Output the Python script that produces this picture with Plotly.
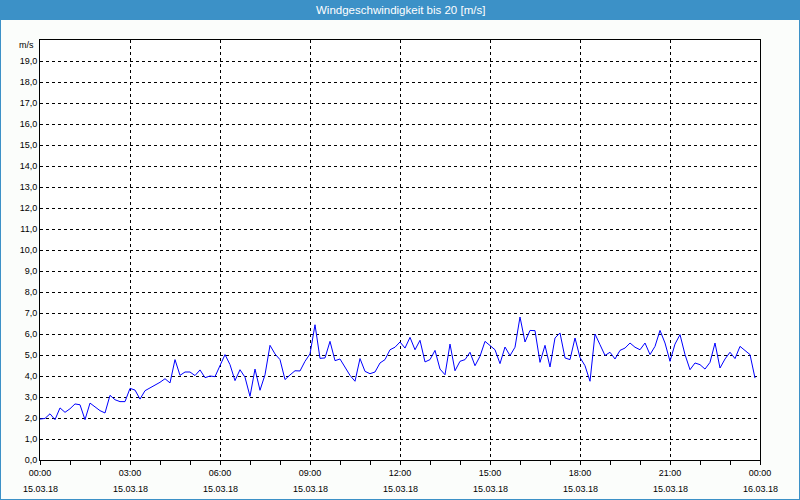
import plotly.graph_objects as go
import pandas as pd

# ---- data (10-minute wind speed values, m/s), 15.03.18 00:00 .. 23:50 ----
speed_00_06 = [1.95, 1.98, 2.20, 1.92, 2.48, 2.27, 2.44, 2.67, 2.63, 1.92, 2.71, 2.52,
               2.35, 2.24, 3.08, 2.87, 2.78, 2.78, 3.41, 3.33, 2.90, 3.30, 3.43, 3.56,
               3.70, 3.87, 3.67, 4.78, 4.03, 4.19, 4.19, 4.02, 4.29, 3.92, 4.00, 3.97]
speed_06_12 = [4.54, 5.02, 4.54, 3.78, 4.30, 3.94, 3.03, 4.33, 3.32, 4.06, 5.46, 5.05,
               4.78, 3.83, 4.05, 4.25, 4.24, 4.70, 5.05, 6.44, 4.84, 4.86, 5.65, 4.73,
               4.81, 4.43, 4.03, 3.75, 4.83, 4.22, 4.11, 4.19, 4.62, 4.78, 5.25, 5.37]
speed_12_18 = [5.62, 5.33, 5.84, 5.25, 5.70, 4.67, 4.78, 5.22, 4.33, 4.06, 5.52, 4.25,
               4.70, 4.78, 5.13, 4.49, 4.94, 5.65, 5.44, 5.25, 4.59, 5.38, 4.97, 5.37,
               6.81, 5.62, 6.17, 6.16, 4.65, 5.46, 4.43, 5.81, 6.05, 4.86, 4.78, 5.81]
speed_18_24 = [4.88, 4.49, 3.75, 6.00, 5.49, 4.98, 5.13, 4.81, 5.22, 5.33, 5.57, 5.37,
               5.25, 5.57, 5.02, 5.41, 6.17, 5.57, 4.70, 5.52, 5.97, 5.02, 4.30, 4.62,
               4.54, 4.33, 4.65, 5.57, 4.38, 4.81, 5.13, 4.83, 5.41, 5.22, 5.02, 3.90]
speed = speed_00_06 + speed_06_12 + speed_12_18 + speed_18_24
times = pd.date_range("2018-03-15 00:00", periods=len(speed), freq="10min")

tick_times = ["2018-03-15 00:00", "2018-03-15 03:00", "2018-03-15 06:00",
              "2018-03-15 09:00", "2018-03-15 12:00", "2018-03-15 15:00",
              "2018-03-15 18:00", "2018-03-15 21:00", "2018-03-16 00:00"]
tick_hours = ["00:00", "03:00", "06:00", "09:00", "12:00", "15:00", "18:00", "21:00", "00:00"]
tick_dates = ["15.03.18"] * 8 + ["16.03.18"]
y_ticks = list(range(0, 20))

title_text = "Windgeschwindigkeit bis 20 [m/s]"
unit_text = "m/s"

W, H = 800, 500
ML, MR, MT, MB = 40, 40, 40, 40
PW, PH = W - ML - MR, H - MT - MB

BLUE = "#3c91c7"
FONT = "Liberation Sans"

fig = go.Figure()
fig.add_trace(go.Scatter(x=times, y=speed, mode="lines",
                         line=dict(color="#0000ff", width=1), hoverinfo="skip"))

fig.update_layout(
    width=W, height=H,
    margin=dict(l=ML, r=MR, t=MT, b=MB, pad=0),
    paper_bgcolor="#fbfdfb", plot_bgcolor="#ffffff",
    showlegend=False,
    separators=",.",
    font=dict(family=FONT, size=9, color="#000000"),
)

fig.update_xaxes(
    type="date",
    range=[tick_times[0], tick_times[-1]],
    tickvals=tick_times, ticktext=tick_hours,
    ticks="outside", ticklen=4, tickcolor="#000000", tickwidth=1,
    minor=dict(dtick=3600000, ticks="outside", ticklen=4, tickcolor="#000000",
               showgrid=False),
    showgrid=True, gridcolor="#000000", gridwidth=1, griddash="3px,3px",
    showline=True, linecolor="#000000", linewidth=1, mirror=True,
    zeroline=False,
    tickfont=dict(family=FONT, size=9, color="#000000"),
)
fig.update_yaxes(
    range=[0, 20],
    tickvals=y_ticks, tickformat=".1f",
    ticks="", ticklen=0,
    showgrid=True, gridcolor="#000000", gridwidth=1, griddash="3px,3px",
    showline=True, linecolor="#000000", linewidth=1, mirror=True,
    zeroline=False,
    tickfont=dict(family=FONT, size=9, color="#000000"),
)

# title bar and outer frame
fig.add_shape(type="rect", xref="paper", yref="paper",
              x0=-ML / PW, x1=1 + MR / PW, y0=1 + (MT - 20) / PH, y1=1 + MT / PH,
              fillcolor=BLUE, line=dict(width=0), layer="above")
fig.add_shape(type="rect", xref="paper", yref="paper",
              x0=-ML / PW, x1=1 + MR / PW, y0=-MB / PH, y1=1 + MT / PH,
              fillcolor="rgba(0,0,0,0)", line=dict(color=BLUE, width=2), layer="above")

annotations = [
    dict(text=title_text, xref="paper", yref="paper", x=0.5, y=1 + 30 / PH,
         xanchor="center", yanchor="middle", showarrow=False,
         font=dict(family=FONT, size=11.5, color="#ffffff")),
    dict(text=unit_text, xref="paper", yref="paper", x=0, y=1 - 5 / PH,
         xanchor="right", yanchor="middle", xshift=-4, showarrow=False,
         font=dict(family=FONT, size=9, color="#000000")),
]
for t, d in zip(tick_times, tick_dates):
    annotations.append(dict(text=d, x=t, xref="x", yref="paper", y=-29 / PH,
                            xanchor="center", yanchor="middle", showarrow=False,
                            font=dict(family=FONT, size=9, color="#000000")))
fig.update_layout(annotations=annotations)

fig.write_html("out.html")
